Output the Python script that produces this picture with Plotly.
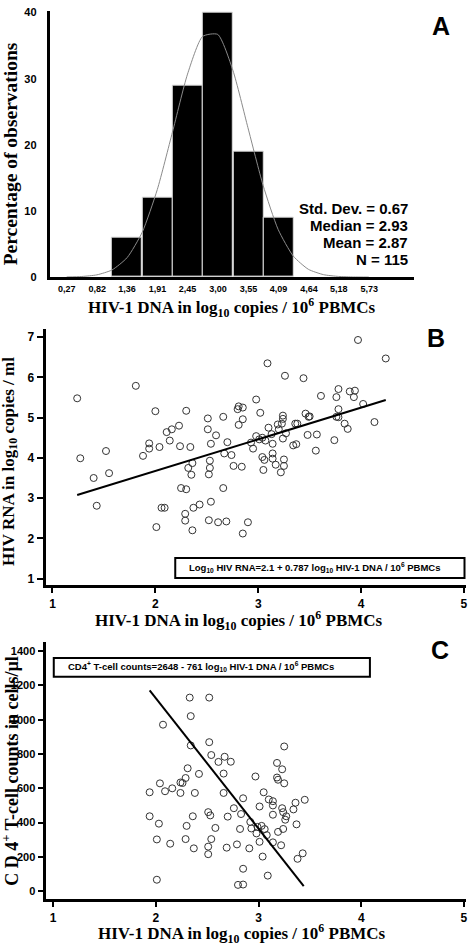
import plotly.graph_objects as go

W, H = 468, 948

# ---------------- Panel A: histogram ----------------
hist_ticks = [0.27, 0.82, 1.36, 1.91, 2.45, 3.00, 3.55, 4.09, 4.64, 5.18, 5.73]
hist_tick_labels = ["0,27", "0,82", "1,36", "1,91", "2,45", "3,00", "3,55", "4,09", "4,64", "5,18", "5,73"]
bin_centers = [1.36, 1.91, 2.45, 3.00, 3.55, 4.09]
bin_counts = [6, 12, 29, 40, 19, 9]
bin_width = 0.545
curve_x = [0.27, 0.5425, 0.815, 1.0875, 1.36, 1.6325, 1.905, 2.1775, 2.45, 2.7225, 2.995,
           3.2675, 3.54, 3.8125, 4.085, 4.3575, 4.63, 4.9025, 5.175, 5.4475, 5.72]
curve_y = [0.02, 0.09, 0.34, 1.08, 2.94, 6.78, 13.25, 21.9, 30.7, 36.4, 36.7,
           31.3, 22.6, 13.9, 7.2, 3.18, 1.18, 0.37, 0.10, 0.02, 0.0]
a_yticks = [0, 10, 20, 30, 40]
stats_lines = ["Std. Dev. = 0.67", "Median = 2.93", "Mean = 2.87", "N = 115"]

# ---------------- Panel B: HIV RNA vs HIV DNA ----------------
dna_b = [1.24, 1.27, 1.52, 1.55, 1.40, 1.81, 1.88, 1.94, 1.94, 2.00, 2.04, 2.11, 2.14, 2.16, 2.23,
         2.24, 2.30, 2.34, 2.32, 2.36, 2.35, 2.51, 2.51, 2.54, 2.59, 2.53, 2.53, 2.52, 2.66, 2.70,
         2.67, 2.74, 2.76, 2.84, 2.80, 2.81, 2.85, 2.85, 2.81, 2.98, 3.02, 2.98, 3.01, 2.93, 2.95,
         3.04, 3.07, 3.09, 3.10, 3.14, 3.13, 3.04, 3.06, 3.14, 3.14, 3.05, 3.17, 3.22, 3.25, 3.25,
         3.19, 3.20, 3.24, 3.24, 3.23, 3.24, 3.27, 3.26, 3.34, 3.37, 3.36, 3.38, 3.44, 3.46, 3.49,
         3.50, 3.48, 3.57, 3.56, 3.61, 3.76, 3.78, 3.78, 3.76, 3.78, 3.84, 3.87, 3.74, 3.89, 3.93,
         3.94, 4.02, 3.97, 4.13, 4.24, 1.43, 2.01, 2.06, 2.09, 2.25, 2.30, 2.29, 2.29, 2.36, 2.37,
         2.43, 2.52, 2.54, 2.61, 2.69, 2.66, 2.85, 2.90]
rna_b = [5.48, 3.99, 4.17, 3.62, 3.50, 5.79, 4.05, 4.36, 4.23, 5.16, 4.27, 4.64, 4.43, 4.71, 4.80,
         4.29, 5.17, 4.27, 3.75, 3.87, 3.58, 4.98, 4.71, 4.35, 4.56, 3.93, 3.75, 3.59, 5.02, 4.39,
         4.11, 4.07, 3.80, 3.78, 5.21, 5.28, 5.25, 4.96, 4.82, 5.45, 5.12, 4.54, 4.46, 4.38, 4.23,
         4.50, 4.43, 6.35, 4.75, 4.35, 4.59, 4.02, 3.95, 4.11, 3.98, 3.70, 3.83, 3.64, 3.96, 3.80,
         4.83, 4.71, 5.05, 4.97, 4.85, 4.48, 4.61, 6.04, 4.31, 4.34, 4.85, 4.85, 5.98, 5.10, 5.02,
         5.03, 4.57, 4.58, 4.18, 5.54, 5.51, 5.71, 5.21, 5.02, 5.01, 4.85, 4.72, 4.44, 5.65, 5.51,
         5.67, 5.34, 6.93, 4.89, 6.47, 2.81, 2.28, 2.76, 2.76, 3.25, 3.22, 2.61, 2.44, 2.20, 2.76,
         2.84, 2.45, 2.91, 2.40, 2.42, 3.25, 2.12, 2.40]
b_intercept, b_slope = 2.1, 0.787
b_line_x = [1.24, 4.24]
b_yticks = [1, 2, 3, 4, 5, 6, 7]

# ---------------- Panel C: CD4 vs HIV DNA ----------------
dna_c = [2.33, 2.52, 2.34, 2.07, 2.52, 2.34, 3.25, 2.54, 2.67, 2.73, 2.61, 3.18, 3.23, 2.31, 2.42,
         2.66, 2.97, 2.29, 3.18, 3.19, 3.25, 2.04, 2.24, 2.26, 2.16, 2.09, 1.94, 2.24, 2.38, 2.66,
         3.05, 2.85, 3.01, 3.10, 3.14, 3.14, 3.23, 3.24, 3.36, 3.45, 3.34, 2.76, 2.51, 2.53, 2.70,
         2.83, 3.14, 3.26, 3.27, 1.94, 2.03, 2.36, 2.30, 2.58, 2.82, 2.93, 2.92, 2.99, 3.03, 3.06,
         3.37, 3.24, 3.19, 2.98, 3.08, 2.01, 2.29, 2.54, 2.14, 3.01, 3.14, 2.79, 2.69, 2.51, 2.37,
         2.91, 3.22, 2.51, 3.04, 3.43, 3.38, 2.85, 3.09, 2.01, 2.80, 2.85]
cd4_c = [1129, 1129, 1021, 971, 869, 850, 844, 794, 784, 755, 754, 748, 711, 717, 684,
         686, 669, 660, 663, 650, 629, 629, 634, 631, 600, 583, 577, 573, 573, 573,
         577, 542, 494, 535, 525, 500, 484, 461, 516, 533, 477, 484, 461, 442, 435,
         450, 446, 417, 437, 437, 394, 437, 381, 369, 363, 366, 404, 375, 381, 362,
         390, 363, 346, 337, 327, 302, 304, 304, 277, 288, 285, 273, 254, 260, 250,
         250, 268, 216, 202, 221, 189, 131, 91, 67, 37, 39]
c_intercept, c_slope = 2648, -761
c_line_x = [1.94, 3.44]
c_yticks = [0, 200, 400, 600, 800, 1000, 1200, 1400]
dna_ticks = [1, 2, 3, 4, 5]


def px(x):
    return x / W


def py(y):
    return 1 - y / H


SANS = "Liberation Sans, Arial, sans-serif"
SERIF = "Liberation Serif, Times New Roman, serif"
BLACK = "black"

fig = go.Figure()

# Panel A traces
fig.add_trace(go.Bar(x=bin_centers, y=bin_counts, width=bin_width,
                     marker=dict(color=BLACK, line=dict(color="#dddddd", width=1)),
                     xaxis="x", yaxis="y", showlegend=False))
fig.add_trace(go.Scatter(x=curve_x, y=curve_y, mode="lines",
                         line=dict(color="#8a8a8a", width=1, shape="spline", smoothing=0.6),
                         xaxis="x", yaxis="y", showlegend=False))

# Panel B traces
fig.add_trace(go.Scatter(x=dna_b, y=rna_b, mode="markers",
                         marker=dict(symbol="circle-open", size=7, color="#333333",
                                     line=dict(width=1)),
                         xaxis="x2", yaxis="y2", showlegend=False))
fig.add_trace(go.Scatter(x=b_line_x, y=[b_intercept + b_slope * v for v in b_line_x],
                         mode="lines", line=dict(color=BLACK, width=2),
                         xaxis="x2", yaxis="y2", showlegend=False))

# Panel C traces
fig.add_trace(go.Scatter(x=dna_c, y=cd4_c, mode="markers",
                         marker=dict(symbol="circle-open", size=7, color="#333333",
                                     line=dict(width=1)),
                         xaxis="x3", yaxis="y3", showlegend=False))
fig.add_trace(go.Scatter(x=c_line_x, y=[c_intercept + c_slope * v for v in c_line_x],
                         mode="lines", line=dict(color=BLACK, width=2),
                         xaxis="x3", yaxis="y3", showlegend=False))

tickfont_small = dict(family=SANS, size=9, color=BLACK, weight="bold")
tickfont = dict(family=SANS, size=12, color=BLACK, weight="bold")
tickfont_c = dict(family=SANS, size=11, color=BLACK, weight="bold")

common = dict(showgrid=False, zeroline=False, showline=True, linecolor=BLACK, linewidth=3)

fig.update_layout(
    width=W, height=H, margin=dict(l=0, r=0, t=0, b=0),
    paper_bgcolor="white", plot_bgcolor="white", bargap=0,
    xaxis=dict(domain=[px(50), px(416)], range=[-0.035, 6.54], anchor="y",
               tickmode="array", tickvals=hist_ticks, ticktext=hist_tick_labels,
               ticks="", tickfont=tickfont_small, ticklabelstandoff=1, **common),
    yaxis=dict(domain=[py(276), py(6.7)], range=[0, 40.3], anchor="x",
               tickmode="array", tickvals=a_yticks, ticks="",
               tickfont=dict(family=SANS, size=11, color=BLACK, weight="bold"),
               ticklabelstandoff=8, **common),
    xaxis2=dict(domain=[px(45.7), 1.0], range=[0.932, 5.02], anchor="y2",
                tickmode="array", tickvals=dna_ticks, ticks="outside", ticklen=5, tickwidth=2,
                tickcolor=BLACK, tickfont=tickfont, ticklabeloverflow="allow", **common),
    yaxis2=dict(domain=[py(587.3), py(328)], range=[0.838, 7.214], anchor="x2",
                tickmode="array", tickvals=b_yticks, ticks="outside", ticklen=6, tickwidth=2,
                tickcolor=BLACK, tickfont=tickfont, **common),
    xaxis3=dict(domain=[px(45.7), 1.0], range=[0.926, 5.02], anchor="y3",
                tickmode="array", tickvals=dna_ticks, ticks="outside", ticklen=5, tickwidth=2,
                tickcolor=BLACK, tickfont=tickfont, ticklabeloverflow="allow",
                ticklabelstandoff=0, **common),
    yaxis3=dict(domain=[py(905), py(645)], range=[-48, 1452], anchor="x3",
                tickmode="array", tickvals=c_yticks, ticks="outside", ticklen=5, tickwidth=2,
                tickcolor=BLACK, tickfont=tickfont_c, **common),
)

ann = []
title_font = dict(family=SERIF, size=17, color=BLACK, weight="bold")
xtitle = "HIV-1 DNA in log<sub>10</sub> copies / 10<sup>6</sup> PBMCs"


def add_text(x, y, text, font, xanchor="center", yanchor="middle", angle=0):
    ann.append(dict(x=px(x), y=py(y), xref="paper", yref="paper", text=text, showarrow=False,
                    font=font, xanchor=xanchor, yanchor=yanchor, textangle=angle))


# Panel A texts
add_text(10, 151, "Percentage of observations", dict(family=SERIF, size=19.5, color=BLACK, weight="bold"), angle=-90)
add_text(233, 307, xtitle, title_font)
for i, line in enumerate(stats_lines):
    add_text(412, 207 + 17 * i, line, dict(family=SANS, size=15, color=BLACK, weight="bold"),
             xanchor="right")
letter_font = dict(family=SANS, size=25, color=BLACK, weight="bold")
add_text(443, 22, "A", letter_font)

# Panel B texts
add_text(10, 462, "HIV RNA in log<sub>10</sub> copies / ml", title_font, angle=-90)
add_text(240, 623, xtitle, title_font)
add_text(438, 338, "B", letter_font)
eq_font = dict(family=SANS, size=9.5, color=BLACK, weight="bold")
b_eq = f"Log<sub>10</sub> HIV RNA={b_intercept} + {b_slope} log<sub>10</sub> HIV-1 DNA / 10<sup>6</sup> PBMCs"
add_text(316, 570, b_eq, eq_font)

# Panel C texts
add_text(11, 775, "C D 4<sup>+</sup> T-cell counts in cells/µl",
         dict(family=SERIF, size=18, color=BLACK, weight="bold"), angle=-90)
add_text(243, 939, xtitle, title_font)
add_text(442, 653, "C", letter_font)
c_eq = f"CD4<sup>+</sup> T-cell counts={c_intercept} - {abs(c_slope)} log<sub>10</sub> HIV-1 DNA / 10<sup>6</sup> PBMCs"
add_text(202, 670, c_eq, eq_font)

fig.update_layout(annotations=ann)

# Equation boxes
shapes = [
    dict(type="rect", xref="paper", yref="paper", x0=px(176), x1=px(466.5), y0=py(580), y1=py(560),
         line=dict(color=BLACK, width=2), fillcolor="rgba(0,0,0,0)", layer="below"),
    dict(type="rect", xref="paper", yref="paper", x0=px(54), x1=px(371.5), y0=py(680), y1=py(661),
         line=dict(color=BLACK, width=2), fillcolor="rgba(0,0,0,0)", layer="below"),
]
fig.update_layout(shapes=shapes)

fig.write_html("out.html")
